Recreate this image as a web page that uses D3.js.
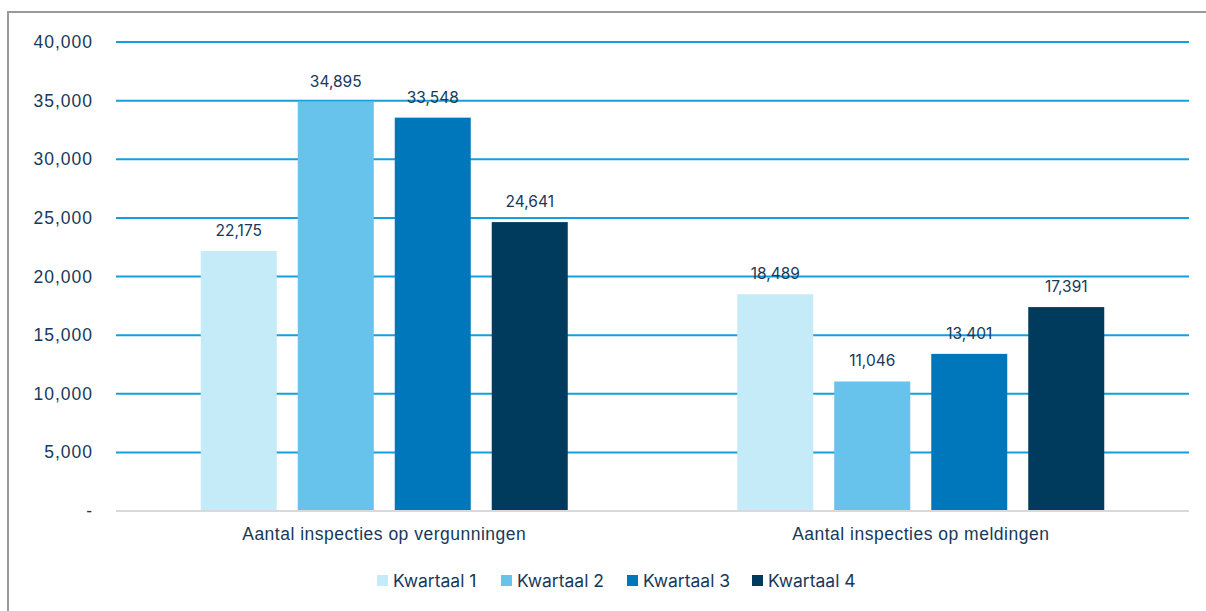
<!DOCTYPE html>
<html><head><meta charset="utf-8">
<script src="https://cdn.jsdelivr.net/npm/d3@7/dist/d3.min.js"></script>
<style>
html,body{margin:0;padding:0;background:#fff;}
svg{display:block;font-family:Inter,"Open Sans",sans-serif;}
</style></head>
<body>
<svg id="chart" width="1206" height="611"></svg>
<script>
const categories = ["Aantal inspecties op vergunningen", "Aantal inspecties op meldingen"];
const seriesNames = ["Kwartaal 1", "Kwartaal 2", "Kwartaal 3", "Kwartaal 4"];
const kwartaal1 = [22175, 18489];
const kwartaal2 = [34895, 11046];
const kwartaal3 = [33548, 13401];
const kwartaal4 = [24641, 17391];
const colors = ["#c5eaf8", "#67c3eb", "#0077bb", "#003b5e"];
const yTicks = [0, 5000, 10000, 15000, 20000, 25000, 30000, 35000, 40000];

(function () {
const seriesValues = [kwartaal1, kwartaal2, kwartaal3, kwartaal4];
const textColor = "#17395a";

const svg = d3.select("#chart");
svg.append("rect").attr("x", 8).attr("y", 12).attr("width", 1220).attr("height", 620)
  .attr("fill", "none").attr("stroke", "#9a9a9a").attr("stroke-width", 2);

const mLeft = 116, mRight = 1189, mTop = 42, mBottom = 511;
const y = d3.scaleLinear().domain([0, 40000]).range([mBottom, mTop]);
const pIn = 1 - 388 / 536.5;
const x0 = d3.scaleBand().domain(categories).range([mLeft, mRight]).paddingInner(pIn).paddingOuter(pIn / 2);
const x1 = d3.scaleBand().domain(seriesNames).range([0, x0.bandwidth()]).paddingInner(21 / 97).paddingOuter(21 / 97 / 2);

const fmt = d3.format(",");

const yAxis = d3.axisLeft(y).tickValues(yTicks).tickSize(0).tickPadding(23)
  .tickFormat(d => d === 0 ? "-" : fmt(d));
const gy = svg.append("g").attr("transform", `translate(${mLeft},0)`).call(yAxis);
gy.select(".domain").remove();
gy.selectAll("text").attr("fill", textColor).style("font-size", "17.5px").style("letter-spacing", "1px");

svg.append("g").selectAll("line").data(yTicks.filter(d => d > 0)).join("line")
  .attr("x1", mLeft).attr("x2", mRight).attr("y1", d => y(d)).attr("y2", d => y(d))
  .attr("stroke", "#14a0dc").attr("stroke-width", 2);

const groups = svg.append("g").selectAll("g").data(categories).join("g")
  .attr("transform", d => `translate(${x0(d)},0)`);
groups.each(function(cat, ci) {
  const g = d3.select(this);
  seriesNames.forEach((s, si) => {
    const v = seriesValues[si][ci];
    g.append("rect").attr("x", x1(s)).attr("width", x1.bandwidth())
      .attr("y", y(v)).attr("height", y(0) - y(v)).attr("fill", colors[si]);
    g.append("text").attr("x", x1(s) + x1.bandwidth() / 2).attr("y", y(v) - 15)
      .attr("text-anchor", "middle").attr("fill", textColor).style("font-size", "15.5px")
      .text(fmt(v));
  });
});

svg.append("line").attr("x1", mLeft).attr("x2", mRight).attr("y1", mBottom).attr("y2", mBottom)
  .attr("stroke", "#d9d9d9").attr("stroke-width", 2);

const xAxis = d3.axisBottom(x0).tickSize(0).tickPadding(17);
const gx = svg.append("g").attr("transform", `translate(0,${mBottom})`).call(xAxis);
gx.select(".domain").remove();
gx.selectAll("text").attr("fill", textColor).style("font-size", "17.5px").style("letter-spacing", "0.5px");

const legendX = [377, 501, 627, 752];
const lg = svg.append("g").selectAll("g").data(seriesNames).join("g")
  .attr("transform", (d, i) => `translate(${legendX[i]},575)`);
lg.append("rect").attr("width", 11).attr("height", 11).attr("fill", (d, i) => colors[i]);
lg.append("text").attr("x", 16).attr("y", 11.5).attr("fill", textColor).style("font-size", "17.5px").text(d => d);
})();
</script>
</body></html>
